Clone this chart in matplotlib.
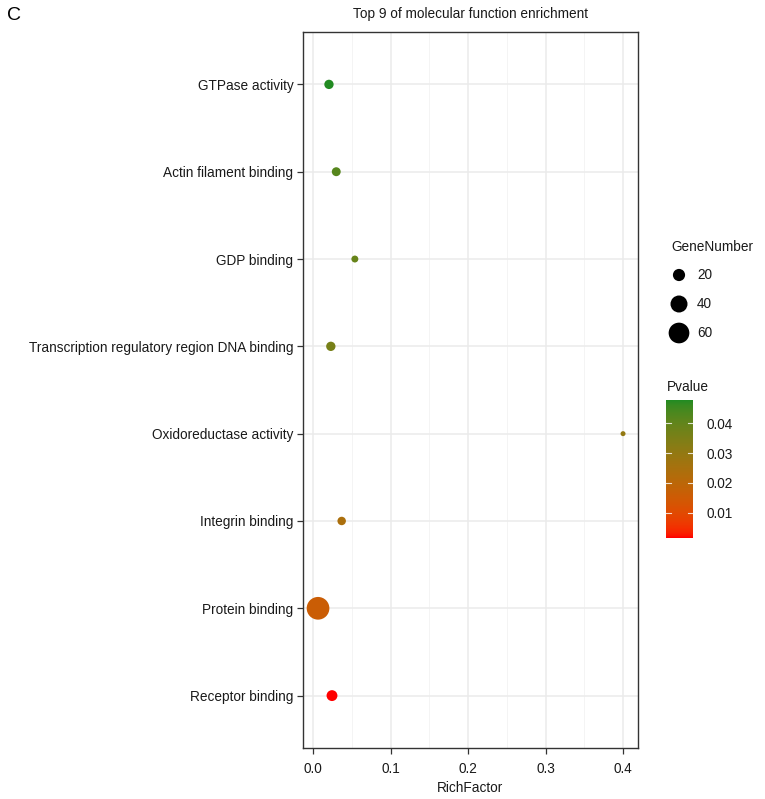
import numpy as np
import matplotlib
matplotlib.use("Agg")
import matplotlib.pyplot as plt
from matplotlib.colors import ListedColormap, Normalize

plt.rcParams['font.family'] = ['Liberation Sans', 'DejaVu Sans']

# ---- data (bottom to top) ----
terms = ["Receptor binding", "Protein binding", "Integrin binding",
         "Oxidoreductase activity", "Transcription regulatory region DNA binding",
         "GDP binding", "Actin filament binding", "GTPase activity"]
rich_factor = [0.0245, 0.0065, 0.037, 0.400, 0.023, 0.054, 0.030, 0.0206]
gene_number = [14, 65, 8, 2, 10, 5, 9, 10]
pvalue = [0.0015, 0.016, 0.024, 0.030, 0.036, 0.039, 0.042, 0.0478]
size_breaks = [20, 40, 60]
p_ticks = [0.01, 0.02, 0.03, 0.04]
title = "Top 9 of molecular function enrichment"

# ---- Lab gradient red -> forestgreen (like ggplot) ----
def srgb_to_lab(rgb):
    rgb = np.asarray(rgb, float)
    lin = np.where(rgb <= 0.04045, rgb / 12.92, ((rgb + 0.055) / 1.055) ** 2.4)
    M = np.array([[0.4124, 0.3576, 0.1805], [0.2126, 0.7152, 0.0722], [0.0193, 0.1192, 0.9505]])
    xyz = lin @ M.T
    xyz = xyz / np.array([0.95047, 1.0, 1.08883])
    f = np.where(xyz > 0.008856, np.cbrt(xyz), 7.787 * xyz + 16 / 116)
    L = 116 * f[..., 1] - 16
    a = 500 * (f[..., 0] - f[..., 1])
    b = 200 * (f[..., 1] - f[..., 2])
    return np.stack([L, a, b], -1)

def lab_to_srgb(lab):
    L, a, b = lab[..., 0], lab[..., 1], lab[..., 2]
    fy = (L + 16) / 116
    fx = fy + a / 500
    fz = fy - b / 200
    def finv(t):
        return np.where(t ** 3 > 0.008856, t ** 3, (t - 16 / 116) / 7.787)
    xyz = np.stack([finv(fx), finv(fy), finv(fz)], -1) * np.array([0.95047, 1.0, 1.08883])
    Minv = np.array([[3.2406, -1.5372, -0.4986], [-0.9689, 1.8758, 0.0415], [0.0557, -0.2040, 1.0570]])
    lin = xyz @ Minv.T
    lin = np.clip(lin, 0, 1)
    rgb = np.where(lin <= 0.0031308, 12.92 * lin, 1.055 * lin ** (1 / 2.4) - 0.055)
    return np.clip(rgb, 0, 1)

low = srgb_to_lab([1.0, 0.0, 0.0])
high = srgb_to_lab([34 / 255, 139 / 255, 34 / 255])
t = np.linspace(0, 1, 256)[:, None]
cmap = ListedColormap(lab_to_srgb(low + (high - low) * t))
norm = Normalize(vmin=min(pvalue), vmax=max(pvalue))

# ---- size mapping (area linear in count) ----
def diam_px(n):
    return np.sqrt(9.4 + 7.78 * np.asarray(n, float))

def marker_s(n):
    d_pt = diam_px(n) * 72 / 100
    return d_pt ** 2

W, H = 765, 799
FS = 9.8
fig = plt.figure(figsize=(W / 100, H / 100), dpi=100)
ax = fig.add_axes([303 / W, (H - 748) / H, 335 / W, 716 / H])

y = np.arange(len(terms))
ax.scatter(rich_factor, y, s=marker_s(gene_number), c=pvalue, cmap=cmap, norm=norm,
           edgecolors='none', zorder=3)

ax.set_xlim(-0.0129, 0.4193)
ax.set_ylim(-0.6, len(terms) - 0.4)
ax.set_yticks(y)
ax.set_yticklabels(terms)
ax.set_xticks([0.0, 0.1, 0.2, 0.3, 0.4])
ax.set_xticklabels(["0.0", "0.1", "0.2", "0.3", "0.4"])
ax.set_xticks([0.05, 0.15, 0.25, 0.35], minor=True)
ax.grid(True, which='major', color='#EBEBEB', linewidth=1.1, zorder=0)
ax.grid(True, which='minor', axis='x', color='#F2F2F2', linewidth=0.6, zorder=0)
ax.set_axisbelow(True)
for sp in ax.spines.values():
    sp.set_color('#333333')
    sp.set_linewidth(1.0)
ax.tick_params(axis='both', which='major', length=4, width=0.9, color='#333333',
               labelsize=FS, labelcolor='#1a1a1a', pad=3)
ax.tick_params(axis='x', which='major', pad=6)
ax.tick_params(axis='x', which='minor', length=0)
ax.set_xlabel("RichFactor", fontsize=FS, color='#1a1a1a', labelpad=4)
ax.set_title(title, fontsize=9.8, color='#1a1a1a', pad=10)

fig.text(7 / W, 1 - 15 / H, "C", fontsize=14, va='center', ha='left')

# ---- size legend ----
fig.text(671 / W, 1 - 247 / H, "GeneNumber", fontsize=FS, va='center', ha='left', color='#1a1a1a')
lax = fig.add_axes([660 / W, 1 - 345 / H, 40 / W, 85 / H])
lax.set_xlim(0, 40)
lax.set_ylim(345, 260)
lax.axis('off')
leg_y = [275, 304, 333]
lax.scatter([19] * 3, leg_y, s=marker_s(size_breaks) * 0.9, c='black', edgecolors='none', clip_on=False)
for yy, lab in zip(leg_y, size_breaks):
    fig.text(697 / W, 1 - yy / H, str(lab), fontsize=FS, va='center', ha='left', color='#1a1a1a')

# ---- colorbar ----
fig.text(667 / W, 1 - 387 / H, "Pvalue", fontsize=FS, va='center', ha='left', color='#1a1a1a')
cax = fig.add_axes([666 / W, 1 - 538 / H, 27 / W, 138 / H])
sm = matplotlib.cm.ScalarMappable(norm=norm, cmap=cmap)
cb = fig.colorbar(sm, cax=cax)
cb.outline.set_visible(False)
cb.set_ticks(p_ticks)
cax.tick_params(length=0, labelsize=FS, labelcolor='#1a1a1a', pad=10)
tr = cax.get_yaxis_transform()
for v in p_ticks:
    cax.plot([0, 0.2], [v, v], color='white', lw=0.8, alpha=0.8, transform=tr)
    cax.plot([0.8, 1.0], [v, v], color='white', lw=0.8, alpha=0.8, transform=tr)

fig.savefig("out.png", dpi=100, facecolor='white')
